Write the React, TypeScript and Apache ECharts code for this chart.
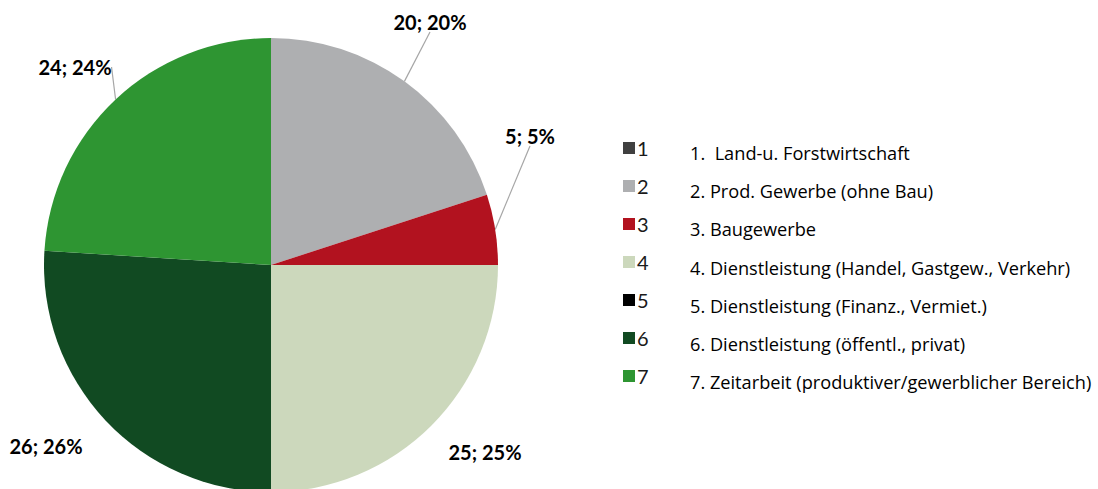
import React, { useEffect, useRef } from "react";
import * as echarts from "echarts";

const categories = ["1", "2", "3", "4", "5", "6", "7"];
const values = [0, 20, 5, 25, 0, 26, 24];
const percents = [0, 20, 5, 25, 0, 26, 24];
const descriptions = [
  "1.  Land-u. Forstwirtschaft",
  "2. Prod. Gewerbe (ohne Bau)",
  "3. Baugewerbe",
  "4. Dienstleistung (Handel, Gastgew., Verkehr)",
  "5. Dienstleistung (Finanz., Vermiet.)",
  "6. Dienstleistung (öffentl., privat)",
  "7. Zeitarbeit (produktiver/gewerblicher Bereich)",
];
const colors = ["#404040", "#AEAFB1", "#B2121F", "#CCD8BC", "#000000", "#114A22", "#2E9532"];

// label anchor positions (styling only)
const labelPos: Record<number, [number, number]> = {
  1: [430, 22],
  2: [530, 136],
  3: [485, 452],
  5: [46, 446],
  6: [75, 67],
};
const noLine = [3, 5];

const FONT = "Lato, 'Open Sans', sans-serif";
const DESC_FONT = "'Open Sans', Lato, sans-serif";

export default function App() {
  const ref = useRef<HTMLDivElement>(null);
  useEffect(() => {
    document.body.style.margin = "0";
    const chart = echarts.init(ref.current!, null, { renderer: "svg" });
    const data = categories.map((c, i) => ({
      name: c,
      value: values[i],
      itemStyle: { color: colors[i] },
      label: { show: values[i] > 0 },
      labelLine: { show: values[i] > 0 && !noLine.includes(i) },
    }));
    chart.setOption({
      animation: false,
      backgroundColor: "#ffffff",
      legend: {
        orient: "vertical",
        left: 618,
        top: 133,
        itemWidth: 12,
        itemHeight: 12,
        itemGap: 18,
        icon: "rect",
        textStyle: { fontFamily: FONT, fontSize: 20, color: "#1a1a1a", lineHeight: 20, padding: [0, 0, 0, -3] },
        data: categories,
      },
      graphic: descriptions.map((d, i) => ({
        type: "text",
        left: 690,
        top: 144 + i * 38.2,
        style: { text: d, font: `18.2px ${DESC_FONT}`, fill: "#000000" },
      })),
      series: [
        {
          type: "pie",
          center: [271, 265],
          radius: 227,
          startAngle: 90,
          clockwise: true,
          avoidLabelOverlap: false,
          data,
          itemStyle: { borderWidth: 0 },
          label: {
            show: true,
            position: "outside",
            formatter: (p: any) => `${p.value}; ${percents[p.dataIndex]}%`,
            fontFamily: FONT,
            fontWeight: "bold",
            fontSize: 20,
            color: "#000000",
          },
          labelLine: { show: true, lineStyle: { color: "#A6A6A6", width: 1.2 }, length: 1, length2: 0 },
          labelLayout: (params: any) => {
            const pos = labelPos[params.dataIndex];
            if (!pos) return {};
            return { x: pos[0], y: pos[1], align: "center", verticalAlign: "middle" };
          },
        },
      ],
    });
    return () => chart.dispose();
  }, []);
  return <div ref={ref} style={{ width: 1098, height: 489 }} />;
}
